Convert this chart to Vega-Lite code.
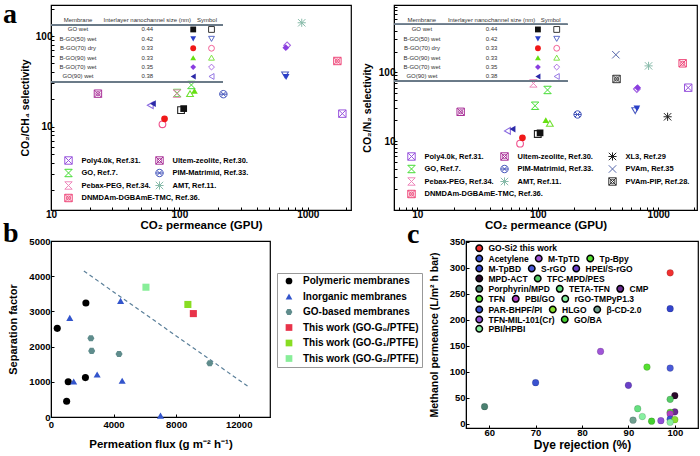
{
  "$schema": "https://vega.github.io/schema/vega-lite/v6.json",
  "background": "white",
  "padding": {"left": 2, "top": 0, "right": 0, "bottom": 0},
  "spacing": -13,
  "resolve": {"scale": {"color": "independent", "shape": "independent", "fill": "independent", "stroke": "independent"}},
  "datasets": {
    "a_ours": [
      {"panel": "CO2/CH4", "symbol": "filled", "series": "GO wet", "permeance": 108, "selectivity": 15.8},
      {"panel": "CO2/CH4", "symbol": "filled", "series": "B-GO(50) wet", "permeance": 678, "selectivity": 35.3},
      {"panel": "CO2/CH4", "symbol": "filled", "series": "B-GO(70) dry", "permeance": 76.6, "selectivity": 12.2},
      {"panel": "CO2/CH4", "symbol": "filled", "series": "B-GO(90) wet", "permeance": 131, "selectivity": 24.8},
      {"panel": "CO2/CH4", "symbol": "filled", "series": "B-GO(70) wet", "permeance": 674, "selectivity": 74.3},
      {"panel": "CO2/CH4", "symbol": "filled", "series": "GO(90) wet", "permeance": 62.2, "selectivity": 17.9},
      {"panel": "CO2/CH4", "symbol": "open", "series": "GO wet", "permeance": 103, "selectivity": 15.2},
      {"panel": "CO2/CH4", "symbol": "open", "series": "B-GO(50) wet", "permeance": 665, "selectivity": 37.2},
      {"panel": "CO2/CH4", "symbol": "open", "series": "B-GO(70) dry", "permeance": 73.8, "selectivity": 10.6},
      {"panel": "CO2/CH4", "symbol": "open", "series": "B-GO(90) wet", "permeance": 121, "selectivity": 23.1},
      {"panel": "CO2/CH4", "symbol": "open", "series": "B-GO(70) wet", "permeance": 690, "selectivity": 78.9},
      {"panel": "CO2/CH4", "symbol": "open", "series": "GO(90) wet", "permeance": 59.3, "selectivity": 17.2},
      {"panel": "CO2/N2", "symbol": "filled", "series": "GO wet", "permeance": 104.5, "selectivity": 13.2},
      {"panel": "CO2/N2", "symbol": "filled", "series": "B-GO(50) wet", "permeance": 665, "selectivity": 29.9},
      {"panel": "CO2/N2", "symbol": "filled", "series": "B-GO(70) dry", "permeance": 74.6, "selectivity": 11.2},
      {"panel": "CO2/N2", "symbol": "filled", "series": "B-GO(90) wet", "permeance": 116.6, "selectivity": 20.2},
      {"panel": "CO2/N2", "symbol": "filled", "series": "B-GO(70) wet", "permeance": 675, "selectivity": 59.8},
      {"panel": "CO2/N2", "symbol": "filled", "series": "GO(90) wet", "permeance": 61.7, "selectivity": 15.0},
      {"panel": "CO2/N2", "symbol": "open", "series": "GO wet", "permeance": 100, "selectivity": 12.7},
      {"panel": "CO2/N2", "symbol": "open", "series": "B-GO(50) wet", "permeance": 644, "selectivity": 27.7},
      {"panel": "CO2/N2", "symbol": "open", "series": "B-GO(70) dry", "permeance": 71.3, "selectivity": 9.2},
      {"panel": "CO2/N2", "symbol": "open", "series": "B-GO(90) wet", "permeance": 126, "selectivity": 18.1},
      {"panel": "CO2/N2", "symbol": "open", "series": "B-GO(70) wet", "permeance": 665, "selectivity": 57.2},
      {"panel": "CO2/N2", "symbol": "open", "series": "GO(90) wet", "permeance": 56, "selectivity": 14.1}
    ],
    "a_lit": [
      {"panel": "CO2/CH4", "series": "Poly4.0k, Ref.31.", "permeance": 1858, "selectivity": 13.9},
      {"panel": "CO2/CH4", "series": "Ultem-zeolite, Ref.30.", "permeance": 23.2, "selectivity": 23.1},
      {"panel": "CO2/CH4", "series": "GO, Ref.7.", "permeance": 124, "selectivity": 28.8},
      {"panel": "CO2/CH4", "series": "GO, Ref.7.", "permeance": 96, "selectivity": 23.5},
      {"panel": "CO2/CH4", "series": "Pebax-PEG, Ref.34.", "permeance": 95.6, "selectivity": 23.1},
      {"panel": "CO2/CH4", "series": "PIM-Matrimid, Ref.33.", "permeance": 220, "selectivity": 22.8},
      {"panel": "CO2/CH4", "series": "AMT, Ref.11.", "permeance": 897, "selectivity": 140},
      {"panel": "CO2/CH4", "series": "DNMDAm-DGBAmE-TMC, Ref.36.", "permeance": 1700, "selectivity": 53},
      {"panel": "CO2/N2", "series": "Poly4.0k, Ref.31.", "permeance": 1775, "selectivity": 59.8},
      {"panel": "CO2/N2", "series": "Ultem-zeolite, Ref.30.", "permeance": 22.9, "selectivity": 26.7},
      {"panel": "CO2/N2", "series": "GO, Ref.7.", "permeance": 120.5, "selectivity": 55.4},
      {"panel": "CO2/N2", "series": "GO, Ref.7.", "permeance": 95, "selectivity": 32.7},
      {"panel": "CO2/N2", "series": "Pebax-PEG, Ref.34.", "permeance": 92, "selectivity": 69},
      {"panel": "CO2/N2", "series": "PIM-Matrimid, Ref.33.", "permeance": 214, "selectivity": 24.4},
      {"panel": "CO2/N2", "series": "AMT, Ref.11.", "permeance": 832, "selectivity": 124},
      {"panel": "CO2/N2", "series": "DNMDAm-DGBAmE-TMC, Ref.36.", "permeance": 1596, "selectivity": 135},
      {"panel": "CO2/N2", "series": "XL3, Ref.29", "permeance": 1197, "selectivity": 22.6},
      {"panel": "CO2/N2", "series": "PVAm, Ref.35", "permeance": 445, "selectivity": 180},
      {"panel": "CO2/N2", "series": "PVAm-PIP, Ref.28.", "permeance": 451, "selectivity": 80}
    ],
    "a_table": [
      {"membrane": "Membrane", "size": "Interlayer nanochannel size (nm)", "symbol": "Symbol"},
      {"membrane": "GO wet", "size": "0.44", "series": "GO wet"},
      {"membrane": "B-GO(50) wet", "size": "0.42", "series": "B-GO(50) wet"},
      {"membrane": "B-GO(70) dry", "size": "0.33", "series": "B-GO(70) dry"},
      {"membrane": "B-GO(90) wet", "size": "0.33", "series": "B-GO(90) wet"},
      {"membrane": "B-GO(70) wet", "size": "0.35", "series": "B-GO(70) wet"},
      {"membrane": "GO(90) wet", "size": "0.38", "series": "GO(90) wet"}
    ],
    "b_data": [
      {"group": "Polymeric membranes", "flux": 400, "factor": 2520},
      {"group": "Polymeric membranes", "flux": 2230, "factor": 3240},
      {"group": "Polymeric membranes", "flux": 1100, "factor": 1000},
      {"group": "Polymeric membranes", "flux": 2200, "factor": 1120},
      {"group": "Polymeric membranes", "flux": 1000, "factor": 450},
      {"group": "Inorganic membranes", "flux": 1200, "factor": 2820},
      {"group": "Inorganic membranes", "flux": 1450, "factor": 1010},
      {"group": "Inorganic membranes", "flux": 2950, "factor": 1210},
      {"group": "Inorganic membranes", "flux": 4450, "factor": 3300},
      {"group": "Inorganic membranes", "flux": 4550, "factor": 1030},
      {"group": "Inorganic membranes", "flux": 7000, "factor": 40},
      {"group": "GO-based membranes", "flux": 2550, "factor": 2240},
      {"group": "GO-based membranes", "flux": 2600, "factor": 1880},
      {"group": "GO-based membranes", "flux": 4350, "factor": 1790},
      {"group": "GO-based membranes", "flux": 10150, "factor": 1530},
      {"group": "This work (GO-G₀/PTFE)", "flux": 9100, "factor": 2940},
      {"group": "This work (GO-G₁/PTFE)", "flux": 8750, "factor": 3200},
      {"group": "This work (GO-G₂/PTFE)", "flux": 6070, "factor": 3690}
    ],
    "b_line": [
      {"flux": 2100, "factor": 4150},
      {"flux": 12600, "factor": 870}
    ],
    "c_data": [
      {"series": "GO-Si2 this work", "rejection": 99, "permeance": 290},
      {"series": "Acetylene", "rejection": 70, "permeance": 79},
      {"series": "M-TpTD", "rejection": 84, "permeance": 139},
      {"series": "Tp-Bpy", "rejection": 94, "permeance": 109},
      {"series": "M-TpBD", "rejection": 99, "permeance": 221},
      {"series": "S-rGO", "rejection": 99, "permeance": 107},
      {"series": "HPEI/S-rGO", "rejection": 90, "permeance": 74},
      {"series": "MPD-ACT", "rejection": 100, "permeance": 54},
      {"series": "TFC-MPD/PES", "rejection": 99, "permeance": 47},
      {"series": "Porphyrin/MPD", "rejection": 59, "permeance": 33},
      {"series": "TETA-TFN", "rejection": 92, "permeance": 29},
      {"series": "CMP", "rejection": 100, "permeance": 23},
      {"series": "TFN", "rejection": 99, "permeance": 22},
      {"series": "PBI/GO", "rejection": 99, "permeance": 19},
      {"series": "rGO-TMPyP1.3", "rejection": 93, "permeance": 14},
      {"series": "PAR-BHPF/PI", "rejection": 99, "permeance": 9},
      {"series": "HLGO", "rejection": 100, "permeance": 8},
      {"series": "β-CD-2.0", "rejection": 91, "permeance": 7},
      {"series": "TFN-MIL-101(Cr)", "rejection": 97, "permeance": 6},
      {"series": "GO/BA", "rejection": 95, "permeance": 5},
      {"series": "PBI/HPBI", "rejection": 99, "permeance": 3}
    ]
  },
  "vconcat": [
    {
      "bounds": "flush",
      "spacing": 43,
      "resolve": {"scale": {"color": "independent", "shape": "independent", "fill": "independent", "stroke": "independent"}},
      "hconcat": [
        {
          "width": 300,
          "height": 205,
          "title": {"text": "a", "anchor": "start", "frame": "group", "orient": "top", "offset": 0, "dx": -48, "dy": 47.5, "baseline": "alphabetic", "font": "Liberation Serif", "fontSize": 28, "fontWeight": "bold", "color": "#000"},
          "layer": [
            {
              "encoding": {
                "x": {"field": "permeance", "type": "quantitative", "scale": {"type": "log", "domain": [10, 2170]},
                  "axis": {"title": "CO₂ permeance (GPU)", "values": [10,20,30,40,50,60,70,80,90,100,200,300,400,500,600,700,800,900,1000,2000], "labelExpr": "datum.value == 10 || datum.value == 100 || datum.value == 1000 ? format(datum.value, 'd') : ''", "labelPadding": 2, "titlePadding": 0, "titleFontSize": 11.5, "labelOverlap": false, "labelFlush": false, "labelBound": false}},
                "y": {"field": "selectivity", "type": "quantitative", "scale": {"type": "log", "domain": [1.2, 220]},
                  "axis": {"title": "CO₂/CH₄ selectivity", "values": [2,3,4,5,6,7,8,9,10,20,30,40,50,60,70,80,90,100,200], "labelExpr": "datum.value == 10 || datum.value == 100 ? format(datum.value, 'd') : ''", "labelPadding": 2, "titlePadding": 5, "titleFontSize": 10.5, "labelOverlap": false, "labelFlush": false, "labelBound": false}}
              },
              "layer": [
                {
                  "data": {"name": "a_ours"},
                  "transform": [{"filter": "datum.panel === 'CO2/CH4' && datum.symbol === 'open'"}],
                  "mark": {"type": "point", "filled": false, "size": 45, "strokeWidth": 1.1, "opacity": 1},
                  "encoding": {
                    "shape": {"field": "series", "type": "nominal", "scale": {"domain": ["GO wet","B-GO(50) wet","B-GO(70) dry","B-GO(90) wet","B-GO(70) wet","GO(90) wet"], "range": ["square","triangle-down","circle","triangle-up","diamond","triangle-left"]}, "legend": null},
                    "stroke": {"field": "series", "type": "nominal", "scale": {"domain": ["GO wet","B-GO(50) wet","B-GO(70) dry","B-GO(90) wet","B-GO(70) wet","GO(90) wet"], "range": ["#222222","#4a5ac0","#f0508c","#70e030","#a060e0","#8a6ae0"]}, "legend": null}
                  }
                },
                {
                  "data": {"name": "a_ours"},
                  "transform": [{"filter": "datum.panel === 'CO2/CH4' && datum.symbol === 'filled'"}],
                  "mark": {"type": "point", "filled": true, "size": 45, "opacity": 1},
                  "encoding": {
                    "shape": {"field": "series", "type": "nominal", "scale": {"domain": ["GO wet","B-GO(50) wet","B-GO(70) dry","B-GO(90) wet","B-GO(70) wet","GO(90) wet"], "range": ["square","triangle-down","circle","triangle-up","diamond","triangle-left"]}, "legend": null},
                    "fill": {"field": "series", "type": "nominal", "scale": {"domain": ["GO wet","B-GO(50) wet","B-GO(70) dry","B-GO(90) wet","B-GO(70) wet","GO(90) wet"], "range": ["#111111","#2a3fc8","#f01818","#66e010","#8a3ee0","#2c2aa8"]}, "legend": null}
                  }
                },
                {
                  "data": {"name": "a_lit"},
                  "transform": [{"filter": "datum.panel === 'CO2/CH4'"}, {"filter": {"field": "series", "oneOf": ["Poly4.0k, Ref.31.","GO, Ref.7.","Pebax-PEG, Ref.34.","DNMDAm-DGBAmE-TMC, Ref.36."]}}],
                  "mark": {"type": "point", "filled": false, "size": 55, "strokeWidth": 1, "opacity": 1},
                  "encoding": {
                    "color": {"field": "series", "type": "nominal", "scale": {"domain": ["Poly4.0k, Ref.31.","GO, Ref.7.","Pebax-PEG, Ref.34.","DNMDAm-DGBAmE-TMC, Ref.36."], "range": ["#9955dd","#44dd33","#ee88bb","#ee4477"]},
                      "legend": {"orient": "none", "legendX": 13, "legendY": 151, "title": null, "direction": "vertical", "labelFontSize": 7.5, "symbolSize": 55, "symbolStrokeWidth": 1, "rowPadding": -0.5, "labelOffset": 8.5, "padding": 0}},
                    "shape": {"field": "series", "type": "nominal", "scale": {"domain": ["Poly4.0k, Ref.31.","GO, Ref.7.","Pebax-PEG, Ref.34.","DNMDAm-DGBAmE-TMC, Ref.36."], "range": ["M-1,-1H1V1H-1Z M-1,-1L1,1 M1,-1L-1,1","M-1,-1H1 M-1,1H1 M-1,-1L1,1 M1,-1L-1,1","M-1,-1H1 M-1,1H1 M-1,-1L1,1 M1,-1L-1,1","M-1,-1H1V1H-1Z M-1,-1L1,1 M1,-1L-1,1 M0.55,0A0.55,0.55,0,1,1,-0.55,0A0.55,0.55,0,1,1,0.55,0"]},
                      "legend": {"orient": "none", "legendX": 13, "legendY": 151, "title": null, "direction": "vertical", "labelFontSize": 7.5, "symbolSize": 55, "symbolStrokeWidth": 1, "rowPadding": -0.5, "labelOffset": 8.5, "padding": 0}}
                  }
                },
                {
                  "data": {"name": "a_lit"},
                  "transform": [{"filter": "datum.panel === 'CO2/CH4'"}, {"filter": {"field": "series", "oneOf": ["Ultem-zeolite, Ref.30.","PIM-Matrimid, Ref.33.","AMT, Ref.11."]}}],
                  "mark": {"type": "point", "filled": false, "size": 55, "strokeWidth": 1, "opacity": 1},
                  "encoding": {
                    "color": {"field": "series", "type": "nominal", "scale": {"domain": ["Ultem-zeolite, Ref.30.","PIM-Matrimid, Ref.33.","AMT, Ref.11."], "range": ["#aa3399","#4455bb","#88bbaa"]},
                      "legend": {"orient": "none", "legendX": 104, "legendY": 151, "title": null, "direction": "vertical", "labelFontSize": 7.5, "symbolSize": 55, "symbolStrokeWidth": 1, "rowPadding": -0.5, "labelOffset": 8.5, "padding": 0}},
                    "shape": {"field": "series", "type": "nominal", "scale": {"domain": ["Ultem-zeolite, Ref.30.","PIM-Matrimid, Ref.33.","AMT, Ref.11."], "range": ["M-1,-1H1V1H-1Z M-1,-1L1,1 M1,-1L-1,1 M0.55,0A0.55,0.55,0,1,1,-0.55,0A0.55,0.55,0,1,1,0.55,0","M1,0A1,1,0,1,1,-1,0A1,1,0,1,1,1,0Z M-0.7,-0.7L0.7,0.7 M0.7,-0.7L-0.7,0.7 M-1,0H1","M-1,-1L1,1 M1,-1L-1,1 M0,-1.1V1.1 M-1.1,0H1.1"]},
                      "legend": {"orient": "none", "legendX": 104, "legendY": 151, "title": null, "direction": "vertical", "labelFontSize": 7.5, "symbolSize": 55, "symbolStrokeWidth": 1, "rowPadding": -0.5, "labelOffset": 8.5, "padding": 0}}
                  }
                }
              ],
              "resolve": {"scale": {"shape": "independent", "stroke": "independent", "fill": "independent", "color": "independent"}}
            },
            {
              "data": {"name": "a_table"},
              "transform": [{"window": [{"op": "row_number", "as": "row"}]}],
              "layer": [
                {
                  "mark": {"type": "text", "font": "Liberation Sans", "fontSize": 6, "color": "#333"},
                  "encoding": {
                    "x": {"datum": 0.09, "type": "quantitative", "scale": {"domain": [0, 1]}, "axis": null},
                    "y": {"field": "row", "type": "quantitative", "scale": {"domain": [-0.6, 21.2], "reverse": true}, "axis": null},
                    "text": {"field": "membrane"}
                  }
                },
                {
                  "mark": {"type": "text", "font": "Liberation Sans", "fontSize": 6, "color": "#333"},
                  "encoding": {
                    "x": {"datum": 0.321, "type": "quantitative", "scale": {"domain": [0, 1]}, "axis": null},
                    "y": {"field": "row", "type": "quantitative", "scale": {"domain": [-0.6, 21.2], "reverse": true}, "axis": null},
                    "text": {"field": "size"}
                  }
                },
                {
                  "transform": [{"filter": "isValid(datum.symbol)"}],
                  "mark": {"type": "text", "font": "Liberation Sans", "fontSize": 6, "color": "#333"},
                  "encoding": {
                    "x": {"datum": 0.52, "type": "quantitative", "scale": {"domain": [0, 1]}, "axis": null},
                    "y": {"field": "row", "type": "quantitative", "scale": {"domain": [-0.6, 21.2], "reverse": true}, "axis": null},
                    "text": {"field": "symbol"}
                  }
                },
                {
                  "transform": [{"filter": "isValid(datum.series)"}],
                  "mark": {"type": "point", "filled": true, "size": 34, "opacity": 1},
                  "encoding": {
                    "x": {"datum": 0.474, "type": "quantitative", "scale": {"domain": [0, 1]}, "axis": null},
                    "y": {"field": "row", "type": "quantitative", "scale": {"domain": [-0.6, 21.2], "reverse": true}, "axis": null},
                    "shape": {"field": "series", "type": "nominal", "scale": {"domain": ["GO wet","B-GO(50) wet","B-GO(70) dry","B-GO(90) wet","B-GO(70) wet","GO(90) wet"], "range": ["square","triangle-down","circle","triangle-up","diamond","triangle-left"]}, "legend": null},
                    "fill": {"field": "series", "type": "nominal", "scale": {"domain": ["GO wet","B-GO(50) wet","B-GO(70) dry","B-GO(90) wet","B-GO(70) wet","GO(90) wet"], "range": ["#111111","#2a3fc8","#f01818","#66e010","#8a3ee0","#2c2aa8"]}, "legend": null}
                  }
                },
                {
                  "transform": [{"filter": "isValid(datum.series)"}],
                  "mark": {"type": "point", "filled": false, "size": 34, "strokeWidth": 0.9, "opacity": 1},
                  "encoding": {
                    "x": {"datum": 0.535, "type": "quantitative", "scale": {"domain": [0, 1]}, "axis": null},
                    "y": {"field": "row", "type": "quantitative", "scale": {"domain": [-0.6, 21.2], "reverse": true}, "axis": null},
                    "shape": {"field": "series", "type": "nominal", "scale": {"domain": ["GO wet","B-GO(50) wet","B-GO(70) dry","B-GO(90) wet","B-GO(70) wet","GO(90) wet"], "range": ["square","triangle-down","circle","triangle-up","diamond","triangle-left"]}, "legend": null},
                    "stroke": {"field": "series", "type": "nominal", "scale": {"domain": ["GO wet","B-GO(50) wet","B-GO(70) dry","B-GO(90) wet","B-GO(70) wet","GO(90) wet"], "range": ["#222222","#4a5ac0","#f0508c","#70e030","#a060e0","#8a6ae0"]}, "legend": null}
                  }
                },
                {
                  "mark": {"type": "rule", "color": "#6a7a88", "strokeWidth": 1.2},
                  "encoding": {
                    "x": {"datum": 0, "type": "quantitative", "scale": {"domain": [0, 1]}, "axis": null},
                    "x2": {"datum": 0.573},
                    "y": {"datum": 1.53, "type": "quantitative", "scale": {"domain": [-0.6, 21.2], "reverse": true}, "axis": null}
                  }
                },
                {
                  "mark": {"type": "rule", "color": "#6a7a88", "strokeWidth": 1.2},
                  "encoding": {
                    "x": {"datum": 0, "type": "quantitative", "scale": {"domain": [0, 1]}, "axis": null},
                    "x2": {"datum": 0.573},
                    "y": {"datum": 7.59, "type": "quantitative", "scale": {"domain": [-0.6, 21.2], "reverse": true}, "axis": null}
                  }
                }
              ]
            }
          ],
          "resolve": {"scale": {"x": "independent", "y": "independent"}}
        },
        {
          "width": 303,
          "height": 205,
          "layer": [
            {
              "encoding": {
                "x": {"field": "permeance", "type": "quantitative", "scale": {"type": "log", "domain": [6.4, 2100]},
                  "axis": {"title": "CO₂ permeance (GPU)", "values": [7,8,9,10,20,30,40,50,60,70,80,90,100,200,300,400,500,600,700,800,900,1000,2000], "labelExpr": "datum.value == 10 || datum.value == 100 || datum.value == 1000 ? format(datum.value, 'd') : ''", "labelPadding": 2, "titlePadding": 0, "titleFontSize": 11.5, "labelOverlap": false, "labelFlush": false, "labelBound": false}},
                "y": {"field": "selectivity", "type": "quantitative", "scale": {"type": "log", "domain": [1, 950]},
                  "axis": {"title": "CO₂/N₂ selectivity", "values": [2,3,4,5,6,7,8,9,10,20,30,40,50,60,70,80,90,100,200,300,400,500,600,700,800,900], "labelExpr": "datum.value == 10 || datum.value == 100 ? format(datum.value, 'd') : ''", "labelPadding": 2, "titlePadding": 6, "titleFontSize": 10.5, "labelOverlap": false, "labelFlush": false, "labelBound": false}}
              },
              "layer": [
                {
                  "data": {"name": "a_ours"},
                  "transform": [{"filter": "datum.panel === 'CO2/N2' && datum.symbol === 'open'"}],
                  "mark": {"type": "point", "filled": false, "size": 45, "strokeWidth": 1.1, "opacity": 1},
                  "encoding": {
                    "shape": {"field": "series", "type": "nominal", "scale": {"domain": ["GO wet","B-GO(50) wet","B-GO(70) dry","B-GO(90) wet","B-GO(70) wet","GO(90) wet"], "range": ["square","triangle-down","circle","triangle-up","diamond","triangle-left"]}, "legend": null},
                    "stroke": {"field": "series", "type": "nominal", "scale": {"domain": ["GO wet","B-GO(50) wet","B-GO(70) dry","B-GO(90) wet","B-GO(70) wet","GO(90) wet"], "range": ["#222222","#4a5ac0","#f0508c","#70e030","#a060e0","#8a6ae0"]}, "legend": null}
                  }
                },
                {
                  "data": {"name": "a_ours"},
                  "transform": [{"filter": "datum.panel === 'CO2/N2' && datum.symbol === 'filled'"}],
                  "mark": {"type": "point", "filled": true, "size": 45, "opacity": 1},
                  "encoding": {
                    "shape": {"field": "series", "type": "nominal", "scale": {"domain": ["GO wet","B-GO(50) wet","B-GO(70) dry","B-GO(90) wet","B-GO(70) wet","GO(90) wet"], "range": ["square","triangle-down","circle","triangle-up","diamond","triangle-left"]}, "legend": null},
                    "fill": {"field": "series", "type": "nominal", "scale": {"domain": ["GO wet","B-GO(50) wet","B-GO(70) dry","B-GO(90) wet","B-GO(70) wet","GO(90) wet"], "range": ["#111111","#2a3fc8","#f01818","#66e010","#8a3ee0","#2c2aa8"]}, "legend": null}
                  }
                },
                {
                  "data": {"name": "a_lit"},
                  "transform": [{"filter": "datum.panel === 'CO2/N2'"}, {"filter": {"field": "series", "oneOf": ["Poly4.0k, Ref.31.","GO, Ref.7.","Pebax-PEG, Ref.34.","DNMDAm-DGBAmE-TMC, Ref.36."]}}],
                  "mark": {"type": "point", "filled": false, "size": 55, "strokeWidth": 1, "opacity": 1},
                  "encoding": {
                    "color": {"field": "series", "type": "nominal", "scale": {"domain": ["Poly4.0k, Ref.31.","GO, Ref.7.","Pebax-PEG, Ref.34.","DNMDAm-DGBAmE-TMC, Ref.36."], "range": ["#9955dd","#44dd33","#ee88bb","#ee4477"]},
                      "legend": {"orient": "none", "legendX": 13, "legendY": 147, "title": null, "direction": "vertical", "labelFontSize": 7.5, "symbolSize": 55, "symbolStrokeWidth": 1, "rowPadding": -0.5, "labelOffset": 8.5, "padding": 0}},
                    "shape": {"field": "series", "type": "nominal", "scale": {"domain": ["Poly4.0k, Ref.31.","GO, Ref.7.","Pebax-PEG, Ref.34.","DNMDAm-DGBAmE-TMC, Ref.36."], "range": ["M-1,-1H1V1H-1Z M-1,-1L1,1 M1,-1L-1,1","M-1,-1H1 M-1,1H1 M-1,-1L1,1 M1,-1L-1,1","M-1,-1H1 M-1,1H1 M-1,-1L1,1 M1,-1L-1,1","M-1,-1H1V1H-1Z M-1,-1L1,1 M1,-1L-1,1 M0.55,0A0.55,0.55,0,1,1,-0.55,0A0.55,0.55,0,1,1,0.55,0"]},
                      "legend": {"orient": "none", "legendX": 13, "legendY": 147, "title": null, "direction": "vertical", "labelFontSize": 7.5, "symbolSize": 55, "symbolStrokeWidth": 1, "rowPadding": -0.5, "labelOffset": 8.5, "padding": 0}}
                  }
                },
                {
                  "data": {"name": "a_lit"},
                  "transform": [{"filter": "datum.panel === 'CO2/N2'"}, {"filter": {"field": "series", "oneOf": ["Ultem-zeolite, Ref.30.","PIM-Matrimid, Ref.33.","AMT, Ref.11."]}}],
                  "mark": {"type": "point", "filled": false, "size": 55, "strokeWidth": 1, "opacity": 1},
                  "encoding": {
                    "color": {"field": "series", "type": "nominal", "scale": {"domain": ["Ultem-zeolite, Ref.30.","PIM-Matrimid, Ref.33.","AMT, Ref.11."], "range": ["#aa3399","#4455bb","#88bbaa"]},
                      "legend": {"orient": "none", "legendX": 106, "legendY": 147, "title": null, "direction": "vertical", "labelFontSize": 7.5, "symbolSize": 55, "symbolStrokeWidth": 1, "rowPadding": -0.5, "labelOffset": 8.5, "padding": 0}},
                    "shape": {"field": "series", "type": "nominal", "scale": {"domain": ["Ultem-zeolite, Ref.30.","PIM-Matrimid, Ref.33.","AMT, Ref.11."], "range": ["M-1,-1H1V1H-1Z M-1,-1L1,1 M1,-1L-1,1 M0.55,0A0.55,0.55,0,1,1,-0.55,0A0.55,0.55,0,1,1,0.55,0","M1,0A1,1,0,1,1,-1,0A1,1,0,1,1,1,0Z M-0.7,-0.7L0.7,0.7 M0.7,-0.7L-0.7,0.7 M-1,0H1","M-1,-1L1,1 M1,-1L-1,1 M0,-1.1V1.1 M-1.1,0H1.1"]},
                      "legend": {"orient": "none", "legendX": 106, "legendY": 147, "title": null, "direction": "vertical", "labelFontSize": 7.5, "symbolSize": 55, "symbolStrokeWidth": 1, "rowPadding": -0.5, "labelOffset": 8.5, "padding": 0}}
                  }
                },
                {
                  "data": {"name": "a_lit"},
                  "transform": [{"filter": "datum.panel === 'CO2/N2'"}, {"filter": {"field": "series", "oneOf": ["XL3, Ref.29","PVAm, Ref.35","PVAm-PIP, Ref.28."]}}],
                  "mark": {"type": "point", "filled": false, "size": 55, "strokeWidth": 1, "opacity": 1},
                  "encoding": {
                    "color": {"field": "series", "type": "nominal", "scale": {"domain": ["XL3, Ref.29","PVAm, Ref.35","PVAm-PIP, Ref.28."], "range": ["#222222","#5566aa","#333333"]},
                      "legend": {"orient": "none", "legendX": 214, "legendY": 147, "title": null, "direction": "vertical", "labelFontSize": 7.5, "symbolSize": 55, "symbolStrokeWidth": 1, "rowPadding": -0.5, "labelOffset": 8.5, "padding": 0}},
                    "shape": {"field": "series", "type": "nominal", "scale": {"domain": ["XL3, Ref.29","PVAm, Ref.35","PVAm-PIP, Ref.28."], "range": ["M-1,-1L1,1 M1,-1L-1,1 M0,-1.1V1.1 M-1.1,0H1.1","M-1,-1L1,1 M1,-1L-1,1","M-1,-1H1V1H-1Z M-1,-1L1,1 M1,-1L-1,1 M0.55,0A0.55,0.55,0,1,1,-0.55,0A0.55,0.55,0,1,1,0.55,0"]},
                      "legend": {"orient": "none", "legendX": 214, "legendY": 147, "title": null, "direction": "vertical", "labelFontSize": 7.5, "symbolSize": 55, "symbolStrokeWidth": 1, "rowPadding": -0.5, "labelOffset": 8.5, "padding": 0}}
                  }
                }
              ],
              "resolve": {"scale": {"shape": "independent", "stroke": "independent", "fill": "independent", "color": "independent"}}
            },
            {
              "data": {"name": "a_table"},
              "transform": [{"window": [{"op": "row_number", "as": "row"}]}],
              "layer": [
                {
                  "mark": {"type": "text", "font": "Liberation Sans", "fontSize": 6, "color": "#333"},
                  "encoding": {
                    "x": {"datum": 0.092, "type": "quantitative", "scale": {"domain": [0, 1]}, "axis": null},
                    "y": {"field": "row", "type": "quantitative", "scale": {"domain": [-0.6, 21.2], "reverse": true}, "axis": null},
                    "text": {"field": "membrane"}
                  }
                },
                {
                  "mark": {"type": "text", "font": "Liberation Sans", "fontSize": 6, "color": "#333"},
                  "encoding": {
                    "x": {"datum": 0.322, "type": "quantitative", "scale": {"domain": [0, 1]}, "axis": null},
                    "y": {"field": "row", "type": "quantitative", "scale": {"domain": [-0.6, 21.2], "reverse": true}, "axis": null},
                    "text": {"field": "size"}
                  }
                },
                {
                  "transform": [{"filter": "isValid(datum.symbol)"}],
                  "mark": {"type": "text", "font": "Liberation Sans", "fontSize": 6, "color": "#333"},
                  "encoding": {
                    "x": {"datum": 0.517, "type": "quantitative", "scale": {"domain": [0, 1]}, "axis": null},
                    "y": {"field": "row", "type": "quantitative", "scale": {"domain": [-0.6, 21.2], "reverse": true}, "axis": null},
                    "text": {"field": "symbol"}
                  }
                },
                {
                  "transform": [{"filter": "isValid(datum.series)"}],
                  "mark": {"type": "point", "filled": true, "size": 34, "opacity": 1},
                  "encoding": {
                    "x": {"datum": 0.475, "type": "quantitative", "scale": {"domain": [0, 1]}, "axis": null},
                    "y": {"field": "row", "type": "quantitative", "scale": {"domain": [-0.6, 21.2], "reverse": true}, "axis": null},
                    "shape": {"field": "series", "type": "nominal", "scale": {"domain": ["GO wet","B-GO(50) wet","B-GO(70) dry","B-GO(90) wet","B-GO(70) wet","GO(90) wet"], "range": ["square","triangle-down","circle","triangle-up","diamond","triangle-left"]}, "legend": null},
                    "fill": {"field": "series", "type": "nominal", "scale": {"domain": ["GO wet","B-GO(50) wet","B-GO(70) dry","B-GO(90) wet","B-GO(70) wet","GO(90) wet"], "range": ["#111111","#2a3fc8","#f01818","#66e010","#8a3ee0","#2c2aa8"]}, "legend": null}
                  }
                },
                {
                  "transform": [{"filter": "isValid(datum.series)"}],
                  "mark": {"type": "point", "filled": false, "size": 34, "strokeWidth": 0.9, "opacity": 1},
                  "encoding": {
                    "x": {"datum": 0.537, "type": "quantitative", "scale": {"domain": [0, 1]}, "axis": null},
                    "y": {"field": "row", "type": "quantitative", "scale": {"domain": [-0.6, 21.2], "reverse": true}, "axis": null},
                    "shape": {"field": "series", "type": "nominal", "scale": {"domain": ["GO wet","B-GO(50) wet","B-GO(70) dry","B-GO(90) wet","B-GO(70) wet","GO(90) wet"], "range": ["square","triangle-down","circle","triangle-up","diamond","triangle-left"]}, "legend": null},
                    "stroke": {"field": "series", "type": "nominal", "scale": {"domain": ["GO wet","B-GO(50) wet","B-GO(70) dry","B-GO(90) wet","B-GO(70) wet","GO(90) wet"], "range": ["#222222","#4a5ac0","#f0508c","#70e030","#a060e0","#8a6ae0"]}, "legend": null}
                  }
                },
                {
                  "mark": {"type": "rule", "color": "#6a7a88", "strokeWidth": 1.2},
                  "encoding": {
                    "x": {"datum": 0, "type": "quantitative", "scale": {"domain": [0, 1]}, "axis": null},
                    "x2": {"datum": 0.573},
                    "y": {"datum": 1.47, "type": "quantitative", "scale": {"domain": [-0.6, 21.2], "reverse": true}, "axis": null}
                  }
                },
                {
                  "mark": {"type": "rule", "color": "#6a7a88", "strokeWidth": 1.2},
                  "encoding": {
                    "x": {"datum": 0, "type": "quantitative", "scale": {"domain": [0, 1]}, "axis": null},
                    "x2": {"datum": 0.573},
                    "y": {"datum": 7.5, "type": "quantitative", "scale": {"domain": [-0.6, 21.2], "reverse": true}, "axis": null}
                  }
                }
              ]
            }
          ],
          "resolve": {"scale": {"x": "independent", "y": "independent"}}
        }
      ]
    },
    {
      "bounds": "flush",
      "spacing": 196,
      "resolve": {"scale": {"color": "independent", "shape": "independent", "fill": "independent", "stroke": "independent"}},
      "hconcat": [
        {
          "width": 219,
          "height": 176,
          "title": {"text": "b", "anchor": "start", "frame": "group", "orient": "top", "offset": 0, "dx": -48, "dy": 33.5, "baseline": "alphabetic", "font": "Liberation Serif", "fontSize": 28, "fontWeight": "bold", "color": "#000"},
          "encoding": {
            "x": {"field": "flux", "type": "quantitative", "scale": {"domain": [0, 14000], "nice": false},
              "axis": {"title": "Permeation flux (g m⁻² h⁻¹)", "format": "d", "values": [0,4000,8000,12000], "labelFontSize": 9.5, "labelPadding": 5.5, "titlePadding": 9, "titleFontSize": 11.5, "labelOverlap": false, "labelFlush": false, "labelBound": false}},
            "y": {"field": "factor", "type": "quantitative", "scale": {"domain": [0, 5004], "nice": false},
              "axis": {"title": "Separation factor", "format": "d", "values": [0,1000,2000,3000,4000,5000], "labelFontSize": 9.5, "labelPadding": 4, "titlePadding": 10, "titleFontSize": 11, "labelOverlap": false, "labelFlush": false, "labelBound": false}}
          },
          "layer": [
            {
              "data": {"name": "b_line"},
              "mark": {"type": "line", "strokeDash": [4, 3], "color": "#5a7f99", "strokeWidth": 1.2}
            },
            {
              "data": {"name": "b_data"},
              "mark": {"type": "point", "filled": true, "size": 50, "opacity": 1},
              "encoding": {
                "color": {"field": "group", "type": "nominal",
                  "scale": {"domain": ["Polymeric membranes","Inorganic membranes","GO-based membranes","This work (GO-G₀/PTFE)","This work (GO-G₁/PTFE)","This work (GO-G₂/PTFE)"], "range": ["#000000","#3355cc","#5f8c8c","#e8334a","#88dd22","#88ee99"]},
                  "legend": {"orient": "none", "legendX": 226, "legendY": 32, "title": null, "strokeColor": "#999999", "padding": 3, "rowPadding": 5.5, "labelFontSize": 10, "symbolSize": 45, "symbolOffset": 4, "labelOffset": 9}},
                "shape": {"field": "group", "type": "nominal",
                  "scale": {"domain": ["Polymeric membranes","Inorganic membranes","GO-based membranes","This work (GO-G₀/PTFE)","This work (GO-G₁/PTFE)","This work (GO-G₂/PTFE)"], "range": ["circle","triangle-up","M-1,0L-0.5,-0.866L0.5,-0.866L1,0L0.5,0.866L-0.5,0.866Z","square","square","square"]},
                  "legend": {"orient": "none", "legendX": 226, "legendY": 32, "title": null, "strokeColor": "#999999", "padding": 3, "rowPadding": 5.5, "labelFontSize": 10, "symbolSize": 45, "symbolOffset": 4, "labelOffset": 9}}
              }
            }
          ]
        },
        {
          "width": 232,
          "height": 187,
          "title": {"text": "c", "anchor": "start", "frame": "group", "orient": "top", "offset": 0, "dx": -59, "dy": 34, "baseline": "alphabetic", "font": "Liberation Serif", "fontSize": 28, "fontWeight": "bold", "color": "#000"},
          "data": {"name": "c_data"},
          "encoding": {
            "x": {"field": "rejection", "type": "quantitative", "scale": {"domain": [55, 105], "nice": false},
              "axis": {"title": "Dye rejection (%)", "values": [60,70,80,90,100], "labelFontSize": 9.5, "labelPadding": 2, "titlePadding": 3, "titleFontSize": 12, "labelOverlap": false, "labelFlush": false, "labelBound": false}},
            "y": {"field": "permeance", "type": "quantitative", "scale": {"domain": [-8, 351], "nice": false},
              "axis": {"title": "Methanol permeance (L/m² h bar)", "values": [0,50,100,150,200,250,300,350], "labelFontSize": 9.5, "labelPadding": 4, "titlePadding": 10, "titleFontSize": 10.5, "labelOverlap": false, "labelFlush": false, "labelBound": false}}
          },
          "layer": [
            {
              "transform": [{"filter": {"field": "series", "oneOf": ["GO-Si2 this work"]}}],
              "mark": {"type": "point", "filled": true, "size": 45, "opacity": 1, "stroke": "#000", "strokeWidth": 0.4, "strokeOpacity": 0.35},
              "encoding": {
                "color": {"field": "series", "type": "nominal", "scale": {"domain": ["GO-Si2 this work"], "range": ["#f03030"]},
                  "legend": {"orient": "none", "legendX": 9, "legendY": 3, "direction": "horizontal", "title": null, "padding": 0, "labelFontSize": 8.5, "symbolSize": 42, "columnPadding": 3.5, "labelOffset": 5, "symbolType": "circle"}}
              }
            },
            {
              "transform": [{"filter": {"field": "series", "oneOf": ["Acetylene","M-TpTD","Tp-Bpy"]}}],
              "mark": {"type": "point", "filled": true, "size": 45, "opacity": 1, "stroke": "#000", "strokeWidth": 0.4, "strokeOpacity": 0.35},
              "encoding": {
                "color": {"field": "series", "type": "nominal", "scale": {"domain": ["Acetylene","M-TpTD","Tp-Bpy"], "range": ["#3a52d0","#a055d8","#55e030"]},
                  "legend": {"orient": "none", "legendX": 9, "legendY": 13, "direction": "horizontal", "title": null, "padding": 0, "labelFontSize": 8.5, "symbolSize": 42, "columnPadding": 3.5, "labelOffset": 5, "symbolType": "circle"}}
              }
            },
            {
              "transform": [{"filter": {"field": "series", "oneOf": ["M-TpBD","S-rGO","HPEI/S-rGO"]}}],
              "mark": {"type": "point", "filled": true, "size": 45, "opacity": 1, "stroke": "#000", "strokeWidth": 0.4, "strokeOpacity": 0.35},
              "encoding": {
                "color": {"field": "series", "type": "nominal", "scale": {"domain": ["M-TpBD","S-rGO","HPEI/S-rGO"], "range": ["#3344cc","#4a5ad8","#6a40c8"]},
                  "legend": {"orient": "none", "legendX": 9, "legendY": 23, "direction": "horizontal", "title": null, "padding": 0, "labelFontSize": 8.5, "symbolSize": 42, "columnPadding": 3.5, "labelOffset": 5, "symbolType": "circle"}}
              }
            },
            {
              "transform": [{"filter": {"field": "series", "oneOf": ["MPD-ACT","TFC-MPD/PES"]}}],
              "mark": {"type": "point", "filled": true, "size": 45, "opacity": 1, "stroke": "#000", "strokeWidth": 0.4, "strokeOpacity": 0.35},
              "encoding": {
                "color": {"field": "series", "type": "nominal", "scale": {"domain": ["MPD-ACT","TFC-MPD/PES"], "range": ["#2a0a2a","#55cc66"]},
                  "legend": {"orient": "none", "legendX": 9, "legendY": 33, "direction": "horizontal", "title": null, "padding": 0, "labelFontSize": 8.5, "symbolSize": 42, "columnPadding": 3.5, "labelOffset": 5, "symbolType": "circle"}}
              }
            },
            {
              "transform": [{"filter": {"field": "series", "oneOf": ["Porphyrin/MPD","TETA-TFN","CMP"]}}],
              "mark": {"type": "point", "filled": true, "size": 45, "opacity": 1, "stroke": "#000", "strokeWidth": 0.4, "strokeOpacity": 0.35},
              "encoding": {
                "color": {"field": "series", "type": "nominal", "scale": {"domain": ["Porphyrin/MPD","TETA-TFN","CMP"], "range": ["#4a8070","#66e080","#6a2a90"]},
                  "legend": {"orient": "none", "legendX": 9, "legendY": 43.3, "direction": "horizontal", "title": null, "padding": 0, "labelFontSize": 8.5, "symbolSize": 42, "columnPadding": 3.5, "labelOffset": 5, "symbolType": "circle"}}
              }
            },
            {
              "transform": [{"filter": {"field": "series", "oneOf": ["TFN","PBI/GO","rGO-TMPyP1.3"]}}],
              "mark": {"type": "point", "filled": true, "size": 45, "opacity": 1, "stroke": "#000", "strokeWidth": 0.4, "strokeOpacity": 0.35},
              "encoding": {
                "color": {"field": "series", "type": "nominal", "scale": {"domain": ["TFN","PBI/GO","rGO-TMPyP1.3"], "range": ["#55e030","#b040c0","#88f0a0"]},
                  "legend": {"orient": "none", "legendX": 9, "legendY": 53.3, "direction": "horizontal", "title": null, "padding": 0, "labelFontSize": 8.5, "symbolSize": 42, "columnPadding": 3.5, "labelOffset": 5, "symbolType": "circle"}}
              }
            },
            {
              "transform": [{"filter": {"field": "series", "oneOf": ["PAR-BHPF/PI","HLGO","β-CD-2.0"]}}],
              "mark": {"type": "point", "filled": true, "size": 45, "opacity": 1, "stroke": "#000", "strokeWidth": 0.4, "strokeOpacity": 0.35},
              "encoding": {
                "color": {"field": "series", "type": "nominal", "scale": {"domain": ["PAR-BHPF/PI","HLGO","β-CD-2.0"], "range": ["#3a52d0","#88e030","#70a090"]},
                  "legend": {"orient": "none", "legendX": 9, "legendY": 64, "direction": "horizontal", "title": null, "padding": 0, "labelFontSize": 8.5, "symbolSize": 42, "columnPadding": 3.5, "labelOffset": 5, "symbolType": "circle"}}
              }
            },
            {
              "transform": [{"filter": {"field": "series", "oneOf": ["TFN-MIL-101(Cr)","GO/BA"]}}],
              "mark": {"type": "point", "filled": true, "size": 45, "opacity": 1, "stroke": "#000", "strokeWidth": 0.4, "strokeOpacity": 0.35},
              "encoding": {
                "color": {"field": "series", "type": "nominal", "scale": {"domain": ["TFN-MIL-101(Cr)","GO/BA"], "range": ["#9050d8","#44d030"]},
                  "legend": {"orient": "none", "legendX": 9, "legendY": 74, "direction": "horizontal", "title": null, "padding": 0, "labelFontSize": 8.5, "symbolSize": 42, "columnPadding": 3.5, "labelOffset": 5, "symbolType": "circle"}}
              }
            },
            {
              "transform": [{"filter": {"field": "series", "oneOf": ["PBI/HPBI"]}}],
              "mark": {"type": "point", "filled": true, "size": 45, "opacity": 1, "stroke": "#000", "strokeWidth": 0.4, "strokeOpacity": 0.35},
              "encoding": {
                "color": {"field": "series", "type": "nominal", "scale": {"domain": ["PBI/HPBI"], "range": ["#88f0a0"]},
                  "legend": {"orient": "none", "legendX": 9, "legendY": 83.5, "direction": "horizontal", "title": null, "padding": 0, "labelFontSize": 8.5, "symbolSize": 42, "columnPadding": 3.5, "labelOffset": 5, "symbolType": "circle"}}
              }
            }
          ],
          "resolve": {"scale": {"color": "independent"}}
        }
      ]
    }
  ],
  "config": {
    "view": {"stroke": "#000", "strokeWidth": 1.2},
    "font": "Liberation Sans",
    "axis": {
      "grid": false,
      "domainColor": "#000",
      "domainWidth": 1,
      "tickColor": "#000",
      "tickWidth": 1,
      "tickSize": -3,
      "labelFont": "Liberation Sans",
      "labelFontWeight": "bold",
      "labelFontSize": 10,
      "labelColor": "#000",
      "titleFont": "Liberation Sans",
      "titleFontWeight": "bold",
      "titleColor": "#000",
      "labelOverlap": false,
      "labelFlush": false,
      "labelBound": false
    },
    "legend": {
      "labelFont": "Liberation Sans",
      "labelFontWeight": "bold",
      "labelColor": "#000",
      "labelLimit": 300
    }
  }
}
